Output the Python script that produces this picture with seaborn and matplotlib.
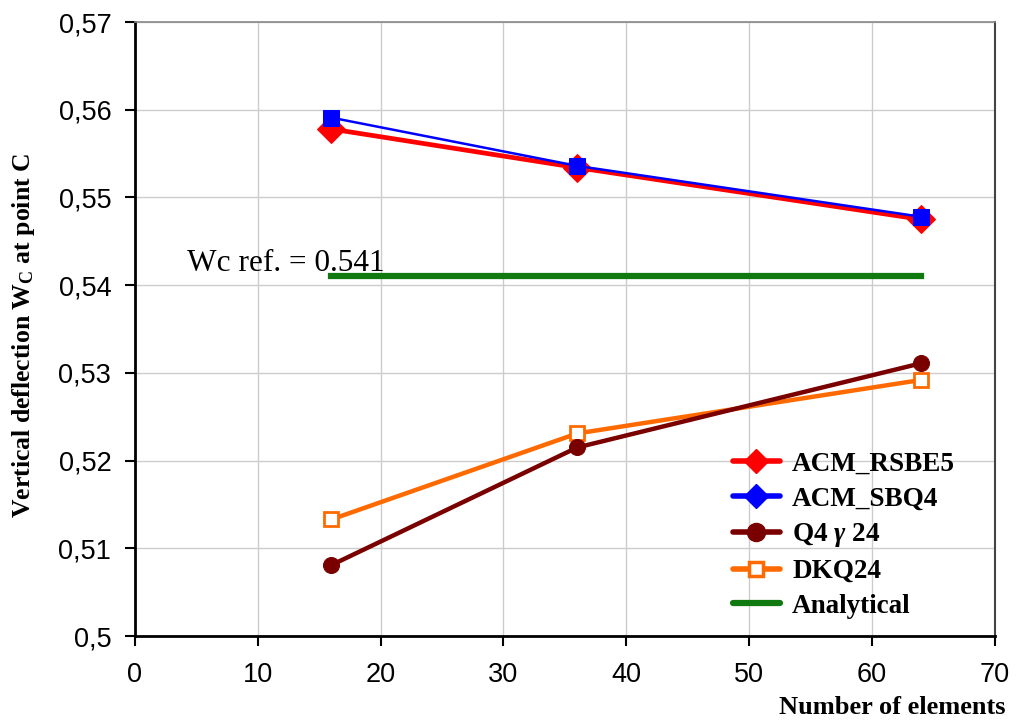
import matplotlib
matplotlib.use("Agg")
import matplotlib.pyplot as plt
from matplotlib.lines import Line2D
import seaborn as sns
import pandas as pd

# data
n_elements = [16, 36, 64]
acm_rsbe5 = [0.5578, 0.5534, 0.5475]
acm_sbq4 = [0.5591, 0.5536, 0.5478]
q4g24 = [0.5081, 0.5215, 0.5311]
dkq24 = [0.5133, 0.5231, 0.5292]
analytical = [0.5411, 0.5411, 0.5411]

x_ticks = [0, 10, 20, 30, 40, 50, 60, 70]
y_ticks = [0.50, 0.51, 0.52, 0.53, 0.54, 0.55, 0.56, 0.57]
y_ticklabels = ["0,5", "0,51", "0,52", "0,53", "0,54", "0,55", "0,56", "0,57"]

sns.set_style("white")
plt.rcParams["font.family"] = ["Liberation Sans", "DejaVu Sans"]
plt.rcParams["text.color"] = "black"
plt.rcParams["axes.labelcolor"] = "black"
plt.rcParams["xtick.color"] = "black"
plt.rcParams["ytick.color"] = "black"
plt.rcParams["mathtext.fontset"] = "custom"
plt.rcParams["mathtext.rm"] = "Liberation Serif:bold"
plt.rcParams["mathtext.it"] = "Liberation Serif:italic:bold"
plt.rcParams["mathtext.bf"] = "Liberation Serif:bold"

df = pd.DataFrame({
    "n": n_elements,
    "ACM_RSBE5": acm_rsbe5,
    "ACM_SBQ4": acm_sbq4,
    "Q4g24": q4g24,
    "DKQ24": dkq24,
    "Analytical": analytical,
})

fig = plt.figure(figsize=(10.22, 7.22), dpi=100)
ax = fig.add_axes([0.132, 0.119, 0.8415, 0.8505])

# analytical reference first so the others sit on top
sns.lineplot(data=df, x="n", y="Analytical", ax=ax, color="#107a10", lw=4.5,
             solid_capstyle="projecting", legend=False, zorder=2)
sns.lineplot(data=df, x="n", y="DKQ24", ax=ax, color="#ff6a00", lw=3.2,
             marker="s", markersize=10, markerfacecolor="white",
             markeredgecolor="#ff6a00", markeredgewidth=2, legend=False, zorder=3)
sns.lineplot(data=df, x="n", y="Q4g24", ax=ax, color="#7a0000", lw=3.2,
             marker="o", markersize=11.5, markeredgecolor="#7a0000",
             legend=False, zorder=4)
sns.lineplot(data=df, x="n", y="ACM_RSBE5", ax=ax, color="#ff0000", lw=3.4,
             marker="D", markersize=14, markeredgecolor="#ff0000",
             legend=False, zorder=5)
sns.lineplot(data=df, x="n", y="ACM_SBQ4", ax=ax, color="#0000ff", lw=1.8,
             marker="s", markersize=11, markeredgecolor="#0000ff",
             legend=False, zorder=6)

ax.set_xlim(0, 70)
ax.set_ylim(0.5, 0.57)
ax.set_xticks(x_ticks)
ax.set_yticks(y_ticks)
ax.set_yticklabels(y_ticklabels)
ax.tick_params(axis="both", labelsize=19.5, direction="out", length=7, width=1.5,
               color="black", labelcolor="black", left=True, bottom=True)
ax.tick_params(axis="x", pad=12)
ax.tick_params(axis="y", pad=10)
ax.grid(True, color="#cccccc", lw=1)
ax.set_axisbelow(True)

for side in ["left", "bottom"]:
    ax.spines[side].set_color("black")
    ax.spines[side].set_linewidth(2)
ax.spines["top"].set_color("#888888")
ax.spines["top"].set_linewidth(1.2)
ax.spines["right"].set_color("#444444")
ax.spines["right"].set_linewidth(1.5)

ax.set_ylabel("Vertical deflection W$_\\mathrm{C}$ at point C",
              family="Liberation Serif", fontweight="bold", fontsize=18.5,
              color="black")
ax.yaxis.set_label_coords(-0.114, 0.49)
ax.set_xlabel("Number of elements", family="Liberation Serif",
              fontweight="bold", fontsize=19, loc="right", color="black")
ax.xaxis.set_label_coords(1.012, -0.098)

ax.text(4.2, 0.5416, "Wc ref. = 0.541", family="Liberation Serif",
        fontsize=22.5, va="baseline", ha="left", color="black")

handles = [
    Line2D([], [], color="#ff0000", lw=4, marker="D", markersize=12,
           markeredgecolor="#ff0000"),
    Line2D([], [], color="#0000ff", lw=4, marker="D", markersize=12,
           markeredgecolor="#0000ff"),
    Line2D([], [], color="#7a0000", lw=4, marker="o", markersize=13),
    Line2D([], [], color="#ff6a00", lw=4, marker="s", markersize=10.5,
           markerfacecolor="white", markeredgewidth=2.5),
    Line2D([], [], color="#107a10", lw=4.5),
]
labels = ["ACM_RSBE5", "ACM_SBQ4", "Q4 $\\gamma$ 24", "DKQ24", "Analytical"]
ax.legend(handles, labels, loc="upper left", bbox_to_anchor=(0.695, 0.30),
          frameon=False, borderaxespad=0, borderpad=0, handlelength=1.75,
          handletextpad=0.45, labelspacing=0.36, labelcolor="black",
          prop={"family": "Liberation Serif", "weight": "bold", "size": 19.5})

fig.savefig("out.png", dpi=100)
